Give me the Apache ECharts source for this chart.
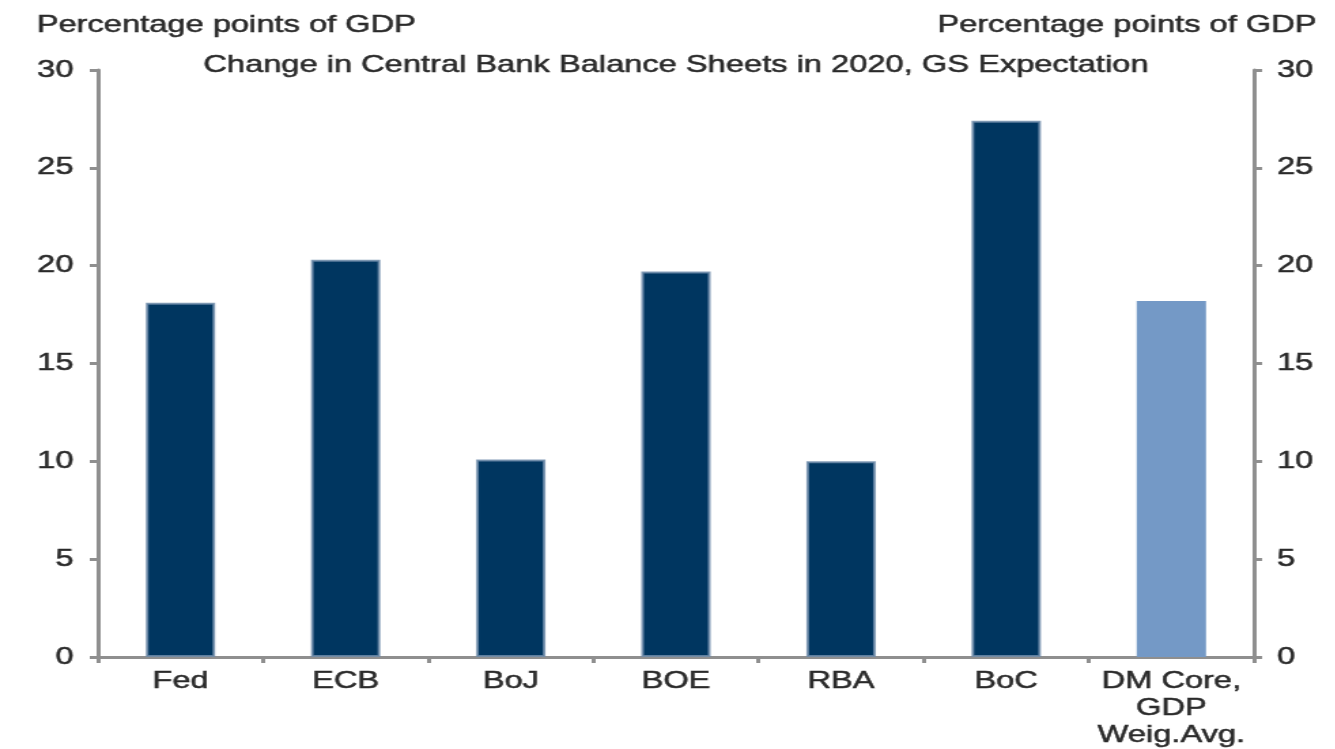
<!DOCTYPE html>
<html>
<head>
<meta charset="utf-8">
<title>Change in Central Bank Balance Sheets in 2020</title>
<script src="https://cdn.jsdelivr.net/npm/echarts/dist/echarts.min.js"></script>
<style>
  html, body { margin: 0; padding: 0; background: #fff; overflow: hidden; }
  #wrap { width: 1335px; height: 749px; overflow: hidden; }
  /* wide-set typography: the chart is laid out narrow and stretched horizontally */
  #chart { width: 982px; height: 749px; transform: scaleX(1.36); transform-origin: 0 0; }
</style>
</head>
<body>
<div id="wrap"><div id="chart"></div></div>
<script>
// Change in balance sheet, percentage points of GDP
const categories = ['Fed', 'ECB', 'BoJ', 'BOE', 'RBA', 'BoC', 'DM Core,\nGDP\nWeig.Avg.'];
const values     = [18.1, 20.3, 10.1, 19.7, 10.0, 27.4, 18.2];
const isAverage  = [false, false, false, false, false, false, true];

// value axis range
const axisMin = 0;
const axisMax = 30;
const axisStep = 5;

const titleText = 'Change in Central Bank Balance Sheets in 2020, GS Expectation';
const unitText = 'Percentage points of GDP';

const FONT = '"Liberation Sans", Arial, sans-serif';
const TEXT = '#2a2a2a';
const AXIS = '#8f8f8f';
const NAVY = '#003660';
const LIGHT = '#7499c6';

// a hairline outline in the text colour gives the slightly heavy type
const heavy = { textBorderColor: TEXT, textBorderWidth: 0.5 };

const chart = echarts.init(document.getElementById('chart'), null, { renderer: 'canvas' });

const barData = values.map((v, i) => ({
  value: v,
  itemStyle: isAverage[i]
    ? { color: LIGHT, borderWidth: 0 }
    : { color: NAVY, borderColor: 'rgba(110,140,170,0.85)', borderWidth: 2 }
}));

const valueAxis = (position, margin) => ({
  type: 'value',
  position: position,
  min: axisMin,
  max: axisMax,
  interval: axisStep,
  splitLine: { show: false },
  axisLine: { show: true, lineStyle: { color: AXIS, width: 3 } },
  axisTick: { show: true, inside: false, length: 6, lineStyle: { color: AXIS, width: 3 } },
  axisLabel: Object.assign({ margin: margin, color: TEXT, fontSize: 24, fontFamily: FONT }, heavy)
});

chart.setOption({
  animation: false,
  backgroundColor: '#ffffff',
  grid: { left: 72, right: 60, top: 70, bottom: 91, containLabel: false },
  xAxis: {
    type: 'category',
    data: categories,
    axisLine: { show: true, lineStyle: { color: AXIS, width: 3 } },
    axisTick: { show: true, length: 6, alignWithLabel: false, lineStyle: { color: AXIS, width: 3 } },
    axisLabel: Object.assign({
      interval: 0, margin: 11, color: TEXT, fontSize: 24, lineHeight: 27, fontFamily: FONT
    }, heavy)
  },
  yAxis: [valueAxis('left', 18), valueAxis('right', 17)],
  series: [{
    type: 'bar',
    data: barData,
    barWidth: '42%',
    yAxisIndex: 0
  }],
  graphic: [
    {
      type: 'text', x: 27, y: 25,
      style: { text: unitText, font: '24px ' + FONT, fill: TEXT, stroke: TEXT, lineWidth: 0.5, textAlign: 'left', textVerticalAlign: 'middle' }
    },
    {
      type: 'text', x: 968, y: 25,
      style: { text: unitText, font: '24px ' + FONT, fill: TEXT, stroke: TEXT, lineWidth: 0.5, textAlign: 'right', textVerticalAlign: 'middle' }
    },
    {
      type: 'text', x: 497, y: 65,
      style: { text: titleText, font: '24px ' + FONT, fill: TEXT, stroke: TEXT, lineWidth: 0.5, textAlign: 'center', textVerticalAlign: 'middle' }
    }
  ]
});
</script>
</body>
</html>
